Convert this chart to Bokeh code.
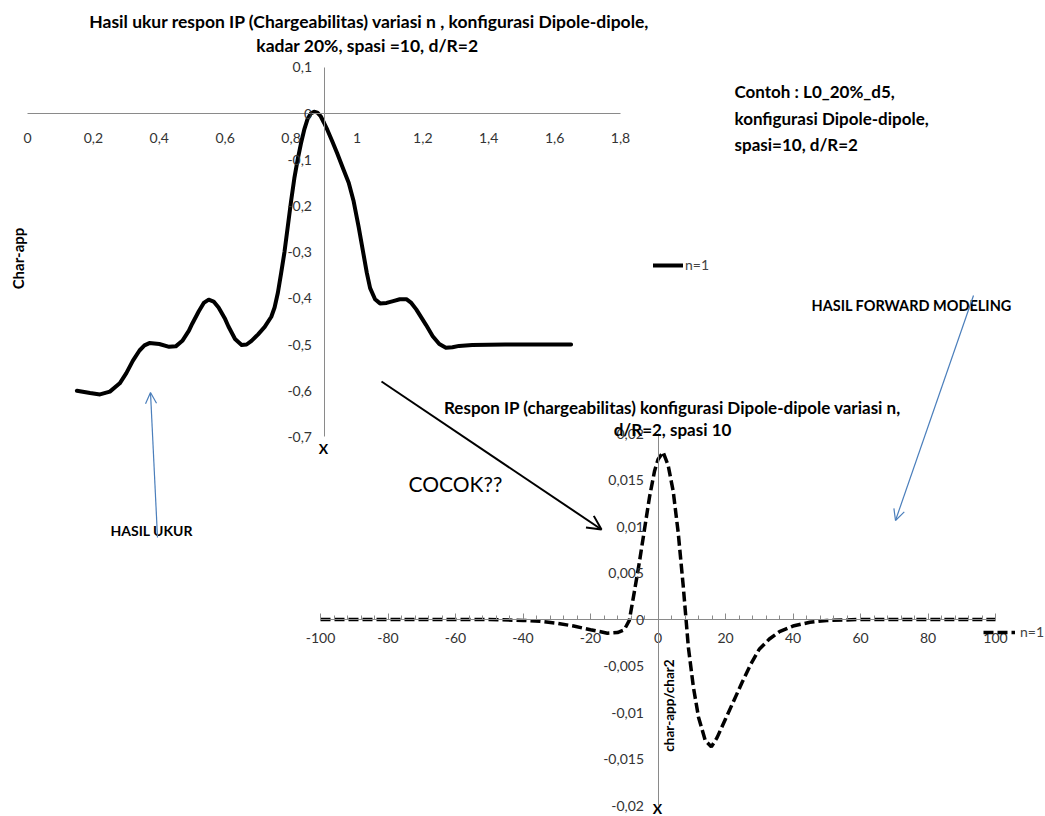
import numpy as np
from bokeh.plotting import figure
from bokeh.models import (Range1d, LinearAxis, FixedTicker, Label, Arrow, OpenHead,
                          Legend, LegendItem)
from bokeh.embed import file_html
from bokeh.resources import INLINE

# ---------------- data ----------------
series_name = "n=1"

top_title = ["Hasil ukur respon IP (Chargeabilitas) variasi n , konfigurasi Dipole-dipole,",
             "kadar 20%,  spasi =10, d/R=2"]
top_ylabel = "Char-app"
top_x = [0.15, 0.19, 0.22, 0.25, 0.28, 0.30, 0.32, 0.34, 0.355, 0.37, 0.40, 0.43, 0.45,
         0.47, 0.49, 0.50, 0.52, 0.535, 0.55, 0.565, 0.58, 0.60, 0.61, 0.63, 0.65, 0.665,
         0.68, 0.70, 0.72, 0.74, 0.75, 0.76, 0.77, 0.78, 0.79, 0.80, 0.81, 0.82, 0.83,
         0.84, 0.85, 0.86, 0.87, 0.88, 0.89, 0.90, 0.91, 0.925, 0.94, 0.96, 0.975, 0.99,
         1.005, 1.02, 1.03, 1.04, 1.055, 1.07, 1.09, 1.11, 1.13, 1.15, 1.165, 1.18, 1.21,
         1.23, 1.25, 1.27, 1.29, 1.31, 1.35, 1.45, 1.55, 1.65]
top_y = [-0.600, -0.605, -0.608, -0.602, -0.584, -0.562, -0.535, -0.513, -0.502, -0.497,
         -0.499, -0.505, -0.504, -0.492, -0.470, -0.455, -0.428, -0.410, -0.403, -0.407,
         -0.420, -0.445, -0.461, -0.488, -0.501, -0.500, -0.492, -0.478, -0.462, -0.440,
         -0.420, -0.388, -0.345, -0.300, -0.245, -0.190, -0.140, -0.100, -0.065, -0.035,
         -0.012, 0.000, 0.004, 0.002, -0.006, -0.020, -0.035, -0.060, -0.086, -0.123,
         -0.150, -0.190, -0.245, -0.305, -0.345, -0.378, -0.402, -0.411, -0.410, -0.406,
         -0.402, -0.402, -0.410, -0.424, -0.458, -0.482, -0.499, -0.507, -0.506, -0.503,
         -0.501, -0.500, -0.500, -0.500]
top_xticks = [0, 0.2, 0.4, 0.6, 0.8, 1, 1.2, 1.4, 1.6, 1.8]
top_xtick_labels = ["0", "0,2", "0,4", "0,6", "0,8", "1", "1,2", "1,4", "1,6", "1,8"]
top_yticks = [0.1, 0, -0.1, -0.2, -0.3, -0.4, -0.5, -0.6, -0.7]
top_ytick_labels = ["0,1", "0", "-0,1", "-0,2", "-0,3", "-0,4", "-0,5", "-0,6", "-0,7"]

bot_title = ["Respon IP (chargeabilitas) konfigurasi Dipole-dipole variasi n,",
             "d/R=2, spasi 10"]
bot_ylabel = "char-app/char2"
bot_x = [-100, -90, -80, -70, -60, -50, -40, -35, -30, -25, -20, -15, -12, -10, -8.5,
         -7, -5.5, -4, -2.5, -1, 0, 1.5, 3, 4.5, 6, 7.5, 9, 10.5, 12, 14, 15.8, 17.5,
         20, 22.5, 25, 27.5, 30, 33, 36, 40, 45, 50, 60, 70, 80, 90, 100]
bot_y = [0, 0, 0, 0, 0, 0, -0.0001, -0.0002, -0.0004, -0.0007, -0.0011, -0.00147,
         -0.0014, -0.0011, -0.0001, 0.0030, 0.0062, 0.0097, 0.0132, 0.0160, 0.0172,
         0.0180, 0.0166, 0.0138, 0.0093, 0.0035, -0.0030, -0.0073, -0.0105, -0.0130,
         -0.0137, -0.0127, -0.0107, -0.0087, -0.0067, -0.0048, -0.0032, -0.0021,
         -0.0013, -0.0007, -0.0003, -0.0001, 0, 0, 0, 0, 0]
bot_xticks = [-100, -80, -60, -40, -20, 0, 20, 40, 60, 80, 100]
bot_xtick_labels = ["-100", "-80", "-60", "-40", "-20", "0", "20", "40", "60", "80", "100"]
bot_yticks = [0.02, 0.015, 0.01, 0.005, 0, -0.005, -0.01, -0.015, -0.02]
bot_ytick_labels = ["0,02", "0,015", "0,01", "0,005", "0", "-0,005", "-0,01", "-0,015", "-0,02"]

note_lines = ["Contoh : L0_20%_d5,", "konfigurasi Dipole-dipole,", "spasi=10, d/R=2"]
txt_forward = "HASIL FORWARD MODELING"
txt_ukur = "HASIL UKUR"
txt_cocok = "COCOK??"
axis_x_name = "X"

# ---------------- layout ----------------
W, H = 1045, 816
FONT = "Lato"
TICK_COLOR = "#333333"
AXIS_COLOR = "#8a8a8a"
BLUE = "#4a7ebb"


def rng(v0, p0, v1, p1, lo, hi):
    k = (p1 - p0) / (v1 - v0)
    return Range1d(v0 + (lo - p0) / k, v0 + (hi - p0) / k)


p = figure(width=W, height=H, output_backend="svg", toolbar_location=None,
           x_range=Range1d(0, W), y_range=Range1d(H, 0),
           x_axis_type=None, y_axis_type=None, min_border=0,
           outline_line_color=None, background_fill_color="white")
p.grid.visible = False

p.extra_x_ranges = {"tx": rng(0, 27, 1.8, 620, 0, W),
                    "bx": rng(-100, 320, 100, 995, 0, W)}
p.extra_y_ranges = {"ty": rng(0, 113, -0.7, 436.4, H, 0),
                    "by": rng(0, 619, -0.02, 805, H, 0)}


def style_axis(ax, standoff, size="14px"):
    ax.axis_line_color = AXIS_COLOR
    ax.axis_line_width = 1
    ax.major_tick_in = 0
    ax.major_tick_out = 0
    ax.minor_tick_in = 0
    ax.minor_tick_out = 0
    ax.major_label_standoff = standoff
    ax.major_label_text_font = FONT
    ax.major_label_text_font_size = size
    ax.major_label_text_color = TICK_COLOR


# top chart axes
ax1 = LinearAxis(x_range_name="tx", y_range_name="ty", fixed_location=0, bounds=(0, 1.8),
                 ticker=FixedTicker(ticks=top_xticks),
                 major_label_overrides=dict(zip(top_xticks, top_xtick_labels)))
style_axis(ax1, 19)
p.add_layout(ax1, "below")
ay1 = LinearAxis(x_range_name="tx", y_range_name="ty", fixed_location=0.9, bounds=(-0.7, 0.1),
                 ticker=FixedTicker(ticks=top_yticks),
                 major_label_overrides=dict(zip(top_yticks, top_ytick_labels)))
style_axis(ay1, 12)
p.add_layout(ay1, "left")

# bottom chart axes
ax2 = LinearAxis(x_range_name="bx", y_range_name="by", fixed_location=0, bounds=(-100, 100),
                 ticker=FixedTicker(ticks=bot_xticks,
                                    minor_ticks=list(range(-100, 101, 4))),
                 major_label_overrides=dict(zip(bot_xticks, bot_xtick_labels)))
style_axis(ax2, 13)
ax2.major_tick_in = 6
ax2.minor_tick_in = 4
ax2.major_tick_line_color = AXIS_COLOR
ax2.minor_tick_line_color = AXIS_COLOR
p.add_layout(ax2, "below")
ay2 = LinearAxis(x_range_name="bx", y_range_name="by", fixed_location=0, bounds=(-0.02, 0.02),
                 ticker=FixedTicker(ticks=bot_yticks),
                 major_label_overrides=dict(zip(bot_yticks, bot_ytick_labels)))
style_axis(ay2, 14)
p.add_layout(ay2, "left")

# series
r_top = p.line(top_x, top_y, x_range_name="tx", y_range_name="ty", line_color="black",
               line_width=4, line_join="round", line_cap="round")
r_bot = p.line(bot_x, bot_y, x_range_name="bx", y_range_name="by", line_color="black",
               line_width=3.5, line_dash="10 4")

# legends (location = bottom-left corner, measured from the frame's bottom-left)
leg1 = Legend(items=[LegendItem(label=series_name, renderers=[r_top])],
              location=(653, H - 273), padding=0, margin=0, spacing=0,
              glyph_width=30, glyph_height=16, label_height=16, label_standoff=2,
              label_text_font=FONT, label_text_font_size="14px",
              border_line_color=None, background_fill_alpha=0)
p.add_layout(leg1)
leg2 = Legend(items=[LegendItem(label=series_name, renderers=[r_bot])],
              location=(983, H - 640), padding=0, margin=0, spacing=0,
              glyph_width=32, glyph_height=16, label_height=16, label_standoff=5,
              label_text_font=FONT, label_text_font_size="14px",
              border_line_color=None, background_fill_alpha=0)
p.add_layout(leg2)


def lab(x, y, text, size, bold=True, align="left", angle=0, color="black"):
    p.add_layout(Label(x=x, y=y, text=text, text_font=FONT, text_font_size=size,
                       text_font_style="bold" if bold else "normal", text_align=align,
                       text_baseline="middle", angle=angle, text_color=color))


# titles
lab(369, 21, top_title[0], "17.5px", align="center")
lab(369, 45, top_title[1], "17.5px", align="center")
lab(672, 407, bot_title[0], "17px", align="center")
lab(672, 429, bot_title[1], "17px", align="center")

# axis titles
lab(17, 258, top_ylabel, "15px", align="center", angle=np.pi / 2)
lab(668, 705, bot_ylabel, "13.5px", align="center", angle=np.pi / 2)
lab(323, 448, axis_x_name, "14px", align="center")
lab(657, 808, axis_x_name, "14px", align="center")

# notes
for i, t in enumerate(note_lines):
    lab(734, 91 + 26.5 * i, t, "17px")
lab(811, 305, txt_forward, "14.5px")
lab(110, 530, txt_ukur, "14px")
lab(408, 483, txt_cocok, "21px", bold=False)

# arrows
p.add_layout(Arrow(end=OpenHead(size=11, line_color=BLUE, line_width=1.2),
                   x_start=157, y_start=537, x_end=150, y_end=392,
                   line_color=BLUE, line_width=1.2))
p.add_layout(Arrow(end=OpenHead(size=11, line_color=BLUE, line_width=1.2),
                   x_start=973, y_start=295, x_end=895, y_end=520,
                   line_color=BLUE, line_width=1.2))
p.add_layout(Arrow(end=OpenHead(size=14, line_color="black", line_width=2),
                   x_start=381, y_start=381, x_end=601, y_end=529,
                   line_color="black", line_width=2))

open("out.html", "w").write(file_html(p, INLINE))
